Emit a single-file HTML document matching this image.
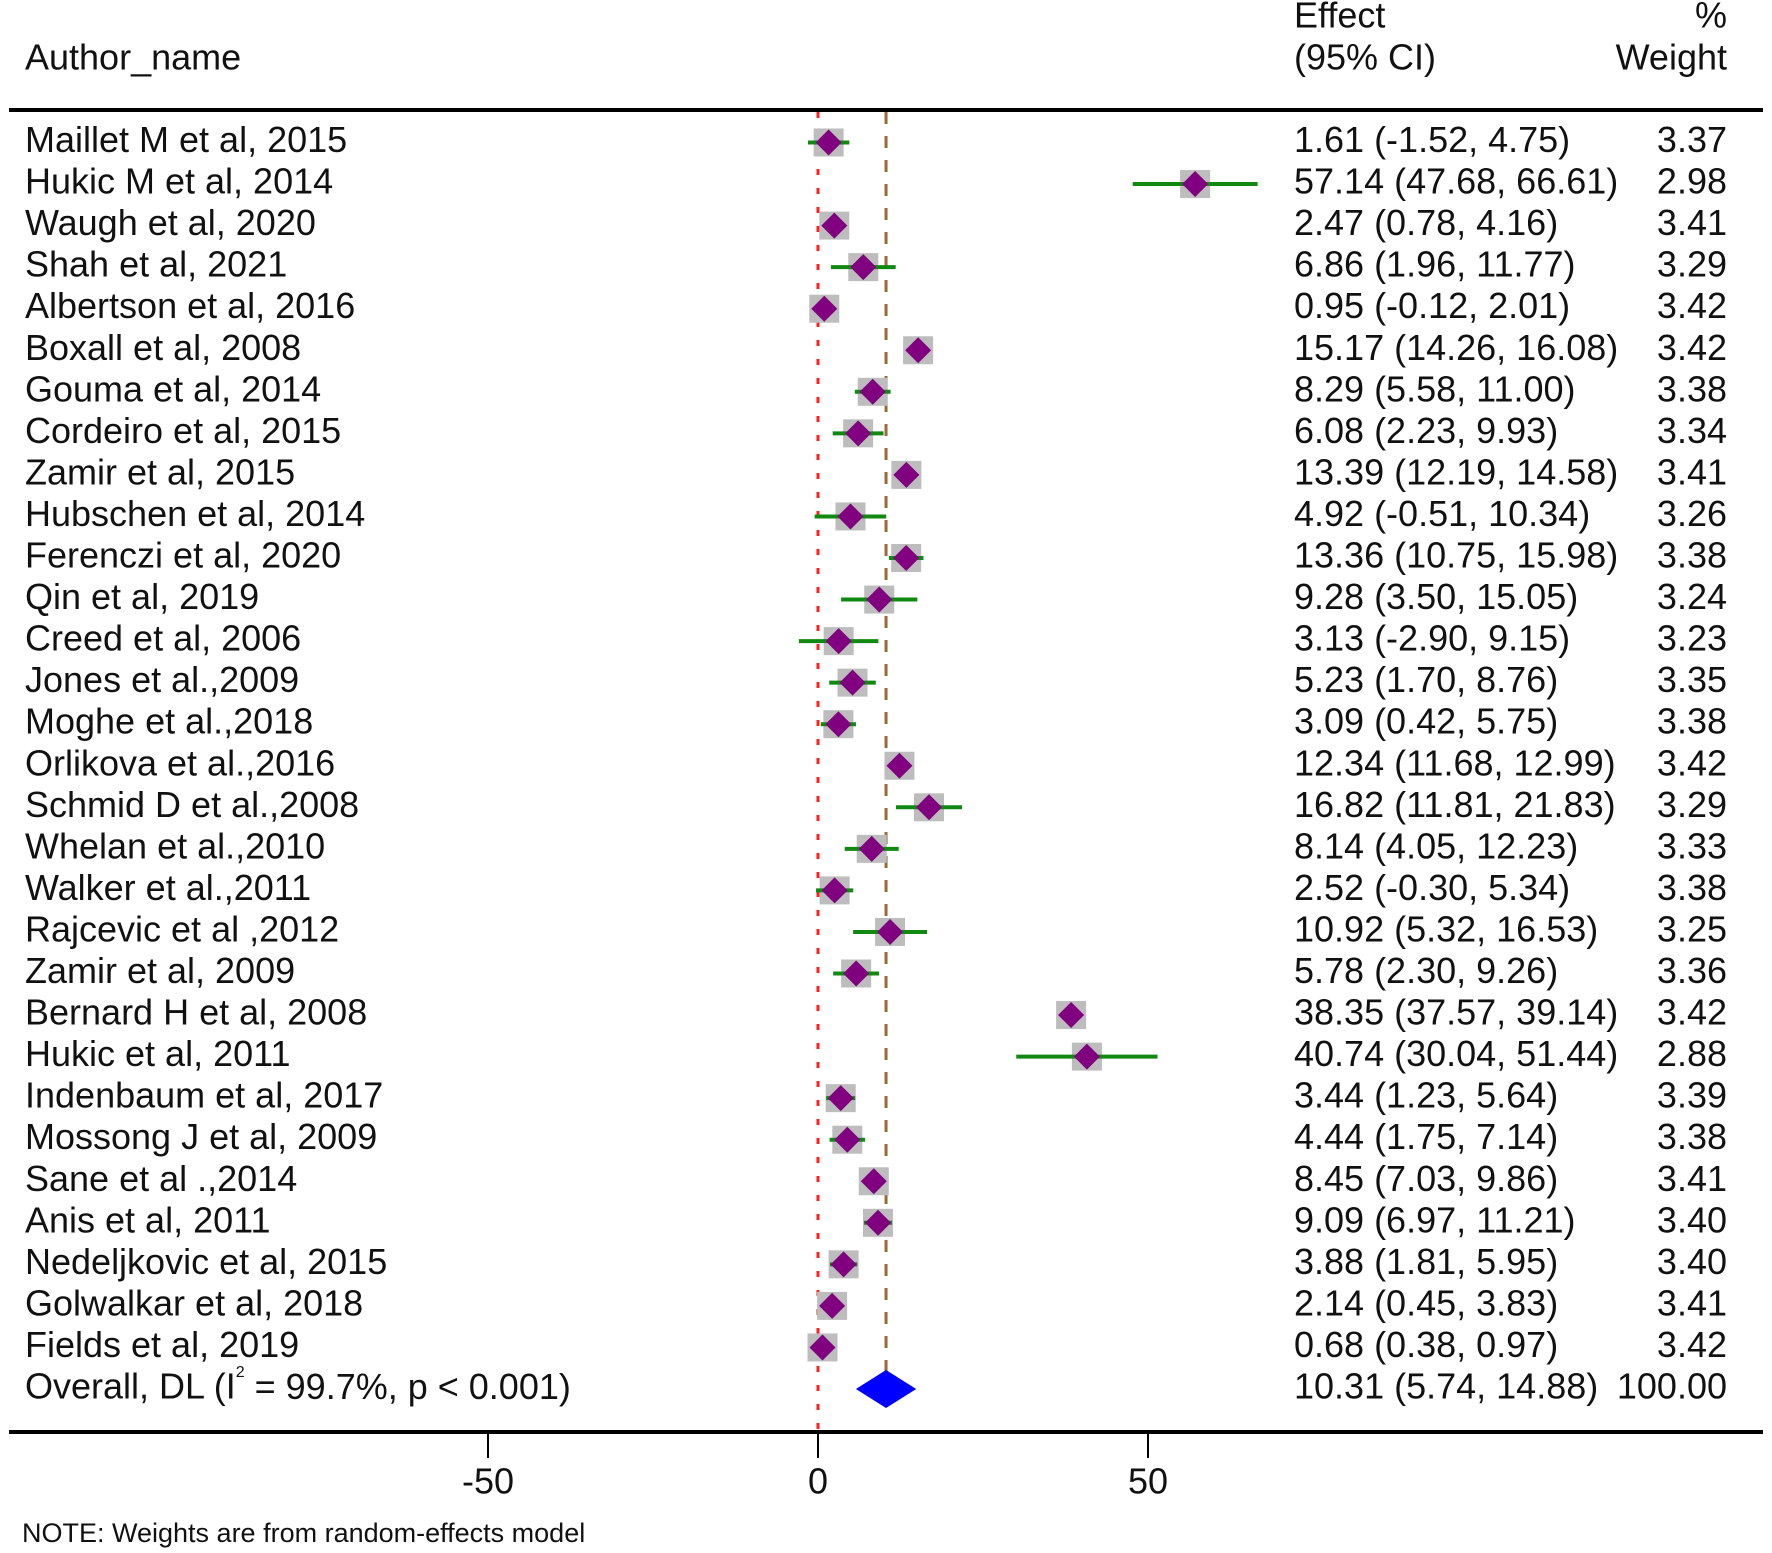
<!DOCTYPE html>
<html><head><meta charset="utf-8"><style>
html,body{margin:0;padding:0;background:#fff;}
svg{display:block;font-family:"Liberation Sans",Arial,sans-serif;}
</style></head><body>
<svg id="chart" width="1772" height="1553" viewBox="0 0 1772 1553" xmlns="http://www.w3.org/2000/svg"></svg>
<script>
const authors=["Maillet M et al, 2015","Hukic M et al, 2014","Waugh et al, 2020","Shah et al, 2021","Albertson et al, 2016","Boxall et al, 2008","Gouma et al, 2014","Cordeiro et al, 2015","Zamir et al, 2015","Hubschen et al, 2014","Ferenczi et al, 2020","Qin et al, 2019","Creed et al, 2006","Jones et al.,2009","Moghe et al.,2018","Orlikova et al.,2016","Schmid D et al.,2008","Whelan et al.,2010","Walker et al.,2011","Rajcevic et al ,2012","Zamir et al, 2009","Bernard H et al, 2008","Hukic et al, 2011","Indenbaum et al, 2017","Mossong J et al, 2009","Sane et al .,2014","Anis et al, 2011","Nedeljkovic et al, 2015","Golwalkar et al, 2018","Fields et al, 2019"];
const effects=[1.61,57.14,2.47,6.86,0.95,15.17,8.29,6.08,13.39,4.92,13.36,9.28,3.13,5.23,3.09,12.34,16.82,8.14,2.52,10.92,5.78,38.35,40.74,3.44,4.44,8.45,9.09,3.88,2.14,0.68];
const lower=[-1.52,47.68,0.78,1.96,-0.12,14.26,5.58,2.23,12.19,-0.51,10.75,3.50,-2.90,1.70,0.42,11.68,11.81,4.05,-0.30,5.32,2.30,37.57,30.04,1.23,1.75,7.03,6.97,1.81,0.45,0.38];
const upper=[4.75,66.61,4.16,11.77,2.01,16.08,11.00,9.93,14.58,10.34,15.98,15.05,9.15,8.76,5.75,12.99,21.83,12.23,5.34,16.53,9.26,39.14,51.44,5.64,7.14,9.86,11.21,5.95,3.83,0.97];
const weights=["3.37","2.98","3.41","3.29","3.42","3.42","3.38","3.34","3.41","3.26","3.38","3.24","3.23","3.35","3.38","3.42","3.29","3.33","3.38","3.25","3.36","3.42","2.88","3.39","3.38","3.41","3.40","3.40","3.41","3.42"];
const overall=[10.31,5.74,14.88];
const xticks=[-50,0,50];

const svg=document.getElementById('chart');
const NS='http://www.w3.org/2000/svg';
const FS=36;
const X=v=>818+v*6.6;
const Y=i=>142.5+i*41.55;
function mk(tag,attrs,parent){const e=document.createElementNS(NS,tag);for(const k in attrs)e.setAttribute(k,attrs[k]);(parent||svg).appendChild(e);return e;}
function txt(s,x,y,anchor,size,name){const t=mk('text',{x:x,y:y,'font-size':size||FS,'text-anchor':anchor||'start','dominant-baseline':'middle',fill:'#111'});t.textContent=s;


return t;}

txt('Author_name',25,60,'start',FS,'author-header');
txt('Effect',1294,18,'start',FS,'effect-header');
txt('(95% CI)',1294,60,'start',FS,'ci-header');
txt('%',1727,18,'end',FS,'percent-header');
txt('Weight',1727,60,'end',FS,'weight-header');

let l=mk('line',{x1:9,x2:1763,y1:110,y2:110,stroke:'#000','stroke-width':4});


l=mk('line',{x1:9,x2:1763,y1:1432,y2:1432,stroke:'#000','stroke-width':4});



l=mk('line',{x1:X(0),x2:X(0),y1:112,y2:1430,stroke:'#ff2020','stroke-width':3,'stroke-dasharray':'6 13'});


l=mk('line',{x1:X(overall[0]),x2:X(overall[0]),y1:112,y2:1400,stroke:'#9a6a3a','stroke-width':3,'stroke-dasharray':'12 12'});



authors.forEach((a,i)=>{
  const y=Y(i);
  txt(a,25,y,'start',FS,'study-label');
  const g=mk('g',{});
  
  
  mk('rect',{x:X(effects[i])-15,y:y-14,width:30,height:28,fill:'#bdbdbd'},g);
  mk('line',{x1:X(lower[i]),x2:X(upper[i]),y1:y,y2:y,stroke:'#118811','stroke-width':4},g);
  const cx=X(effects[i]);
  mk('polygon',{points:`${cx-13},${y} ${cx},${y-13} ${cx+13},${y} ${cx},${y+13}`,fill:'#800080'},g);
  txt(effects[i].toFixed(2)+' ('+lower[i].toFixed(2)+', '+upper[i].toFixed(2)+')',1294,y,'start',FS,'effect-ci');
  txt(weights[i],1727,y,'end',FS,'weight-value');
});
const oy=1389;
const od=mk('polygon',{points:`${X(overall[1])},${oy} ${X(overall[0])},${oy-19} ${X(overall[2])},${oy} ${X(overall[0])},${oy+19}`,fill:'#0000ff'});


const ot=mk('text',{x:25,y:oy,'font-size':FS,'dominant-baseline':'middle',fill:'#111'});


ot.innerHTML='Overall, DL (I<tspan font-size="16" dy="-16">2</tspan><tspan dy="16"> = 99.7%, p &lt; 0.001)</tspan>';
txt(overall[0].toFixed(2)+' ('+overall[1].toFixed(2)+', '+overall[2].toFixed(2)+')',1294,oy,'start',FS,'overall-effect-ci');
txt('100.00',1727,oy,'end',FS,'overall-weight');

xticks.forEach(v=>{
  const t=mk('line',{x1:X(v),x2:X(v),y1:1432,y2:1458,stroke:'#000','stroke-width':2});
  
  
  txt(String(v),X(v),1484,'middle',FS,'x-tick-label');
});
txt('NOTE: Weights are from random-effects model',22,1535,'start',27,'note');
</script>
</body></html>
